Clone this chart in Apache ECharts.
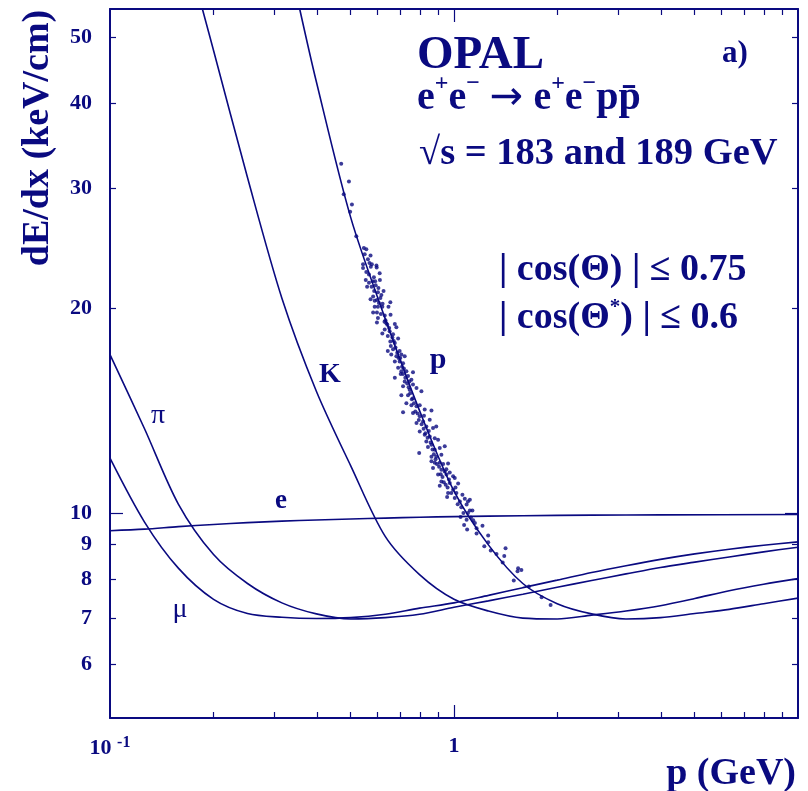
<!DOCTYPE html>
<html>
<head>
<meta charset="utf-8">
<script src="https://cdn.jsdelivr.net/npm/echarts@6/dist/echarts.min.js"></script>
<style>
html, body { margin: 0; padding: 0; background: #fff; }
#chart { width: 808px; height: 791px; }
</style>
</head>
<body>
<div id="chart"></div>
<script>
// axis ticks / labels
var xLabelValues = [0.1, 1];
var xMinorTicks = [0.2, 0.3, 0.4, 0.5, 0.6, 0.7, 0.8, 0.9, 2, 3, 4, 5, 6, 7, 8, 9];
var xMajorTicks = [1];
var yLabelValues = [6, 7, 8, 9, 10, 20, 30, 40, 50];
var yMinorTicks = [6, 7, 8, 9, 20, 30, 40, 50];
var yMajorTicks = [10];

// expected dE/dx curves [p (GeV), dE/dx (keV/cm)]
var eCurve = [[0.1, 9.42], [0.126, 9.47], [0.158, 9.55], [0.2, 9.62], [0.251, 9.68], [0.316, 9.73], [0.398, 9.77], [0.501, 9.80], [0.631, 9.83], [0.794, 9.86], [1.0, 9.88], [1.585, 9.91], [2.512, 9.93], [3.981, 9.94], [10, 9.95]];
var muCurve = [[0.1, 12.04], [0.126, 9.70], [0.158, 8.30], [0.2, 7.47], [0.251, 7.12], [0.316, 7.03], [0.398, 7.0], [0.501, 7.02], [0.631, 7.10], [0.794, 7.25], [1.0, 7.38], [1.259, 7.57], [1.585, 7.77], [1.995, 7.97], [2.512, 8.18], [3.162, 8.37], [3.981, 8.55], [5.012, 8.71], [6.31, 8.85], [7.943, 8.97], [10, 9.07]];
var piCurve = [[0.1, 17.09], [0.126, 13.30], [0.158, 10.31], [0.2, 8.69], [0.251, 7.88], [0.316, 7.38], [0.398, 7.11], [0.501, 6.99], [0.631, 7.02], [0.794, 7.10], [1.0, 7.27], [1.259, 7.43], [1.585, 7.60], [1.995, 7.78], [2.512, 7.96], [3.162, 8.14], [3.981, 8.32], [5.012, 8.47], [6.31, 8.62], [7.943, 8.77], [10, 8.91]];
var kCurve = [[0.1856, 55], [0.2, 47.8], [0.251, 31.1], [0.316, 20.68], [0.398, 15.1], [0.501, 11.73], [0.631, 9.24], [0.794, 8.12], [1.0, 7.47], [1.259, 7.18], [1.585, 7.01], [1.995, 6.99], [2.512, 7.08], [3.162, 7.18], [3.981, 7.31], [5.012, 7.49], [6.31, 7.69], [7.943, 7.86], [10, 8.01]];
var pCurve = [[0.356, 55], [0.398, 43.0], [0.501, 27.16], [0.631, 19.3], [0.794, 14.14], [1.0, 10.77], [1.259, 8.98], [1.585, 7.88], [1.995, 7.36], [2.512, 7.11], [3.162, 6.99], [3.981, 7.02], [5.012, 7.12], [6.31, 7.22], [7.943, 7.36], [10, 7.5]];

// measured proton candidates
var protons = [
  [0.470, 32.6], [0.495, 30.7], [0.478, 29.4], [0.505, 28.4], [0.499, 27.7], [0.520, 25.5], [0.547, 24.5], [0.556, 24.4], [0.550, 24.0], [0.572, 23.9],
  [0.544, 23.2], [0.544, 22.9], [0.556, 22.6], [0.573, 23.0], [0.577, 23.2], [0.595, 23.1], [0.596, 22.95], [0.566, 22.4], [0.608, 22.5], [0.554, 22.0],
  [0.566, 21.8], [0.609, 22.0], [0.559, 21.5], [0.576, 21.5], [0.601, 21.1], [0.624, 21.2], [0.582, 20.8], [0.572, 20.6], [0.588, 20.5], [0.597, 20.55],
  [0.611, 20.7], [0.605, 20.35], [0.653, 20.4], [0.588, 20.1], [0.601, 20.1], [0.619, 20.1], [0.645, 20.1], [0.582, 19.7], [0.597, 19.7], [0.613, 19.6],
  [0.629, 19.5], [0.654, 19.55], [0.601, 19.35], [0.597, 19.05], [0.636, 19.0], [0.673, 18.95], [0.680, 18.75], [0.629, 18.6], [0.650, 18.5], [0.619, 18.35],
  [0.642, 18.2], [0.665, 18.3], [0.688, 18.05], [0.653, 17.87], [0.673, 17.77], [0.642, 17.3], [0.665, 17.4], [0.695, 17.3], [0.657, 17.1], [0.703, 17.1],
  [0.680, 17.0], [0.719, 17.0], [0.673, 16.7], [0.695, 16.7], [0.711, 16.6], [0.688, 16.35], [0.703, 16.15], [0.727, 16.15], [0.673, 15.8], [0.760, 16.1],
  [0.711, 16.0], [0.735, 15.9], [0.752, 15.7], [0.719, 15.6], [0.760, 15.45], [0.711, 15.35], [0.743, 15.18], [0.778, 15.27], [0.804, 15.1], [0.703, 14.9],
  [0.735, 14.9], [0.760, 14.75], [0.727, 14.5], [0.752, 14.4], [0.778, 14.35], [0.795, 14.4], [0.822, 14.19], [0.860, 14.15], [0.711, 14.06], [0.760, 14.03],
  [0.795, 13.87], [0.778, 13.56], [0.813, 13.63], [0.850, 13.71], [0.831, 13.4], [0.869, 13.33], [0.888, 13.4], [0.795, 13.18], [0.822, 13.03], [0.850, 12.96],
  [0.879, 12.88], [0.899, 12.81], [0.831, 12.74], [0.860, 12.6], [0.792, 12.25], [0.879, 12.39], [0.909, 12.46], [0.940, 12.53], [0.860, 12.1], [0.888, 12.1],
  [0.919, 12.18], [0.879, 11.85], [0.909, 11.85], [0.961, 11.82], [0.869, 11.65], [0.919, 11.58], [0.940, 11.51], [0.972, 11.47], [0.899, 11.39], [0.994, 11.33],
  [0.860, 11.91], [0.951, 11.39], [1.005, 11.26], [0.919, 11.13], [0.972, 11.07], [1.028, 11.05], [0.909, 10.97], [0.994, 10.82], [0.961, 10.7], [1.016, 10.7],
  [0.955, 10.56], [1.005, 10.52], [1.058, 10.64], [1.04, 10.4], [1.098, 10.4], [1.112, 10.46], [1.088, 10.29], [1.112, 10.09], [1.131, 10.09], [1.045, 9.87],
  [1.098, 10.0], [1.137, 9.76], [1.088, 9.78], [1.150, 9.67], [1.210, 9.58], [1.092, 9.46], [1.163, 9.5], [1.257, 9.27], [1.163, 9.33], [1.257, 9.06],
  [1.225, 8.94], [1.279, 8.81], [1.329, 8.71], [1.412, 8.88], [1.400, 8.65], [1.385, 8.46], [1.536, 8.30], [1.530, 8.21], [1.570, 8.25], [1.492, 7.96],
  [1.651, 7.80], [1.798, 7.52], [1.909, 7.33],
  [0.562, 23.6], [0.568, 23.3], [0.585, 22.2], [0.590, 21.9], [0.586, 21.2], [0.592, 21.6], [0.603, 21.4], [0.615, 20.9], [0.580, 21.9], [0.620, 20.3],
  [0.632, 19.2], [0.640, 18.9], [0.628, 19.1], [0.648, 18.7], [0.662, 18.1], [0.655, 17.6], [0.668, 17.9], [0.676, 17.5], [0.684, 17.2], [0.690, 16.9],
  [0.698, 16.9], [0.706, 16.4], [0.715, 16.3], [0.722, 15.8], [0.731, 15.5], [0.738, 15.3], [0.746, 15.0], [0.754, 14.7], [0.765, 14.5], [0.772, 14.1],
  [0.784, 14.0], [0.790, 13.7], [0.742, 15.6], [0.700, 16.0], [0.805, 13.5], [0.816, 13.3], [0.826, 13.1], [0.838, 12.9], [0.845, 13.2], [0.855, 12.7],
  [0.866, 12.4], [0.874, 12.2], [0.884, 12.0], [0.892, 11.8], [0.840, 12.5], [0.818, 13.9], [0.905, 11.7], [0.915, 11.4], [0.926, 11.3], [0.934, 11.1],
  [0.946, 11.0], [0.958, 10.9], [0.967, 11.2], [0.982, 10.7], [0.930, 11.8], [0.950, 11.6], [1.010, 10.9], [1.025, 10.3], [1.050, 10.2], [1.065, 10.0],
  [1.075, 10.5], [1.120, 9.85], [1.070, 9.6]
];

var navy = '#0a0a80';
var serif = '"Liberation Serif", "Times New Roman", serif';

// one axis per side and tick size (short minor, long major ticks inside)
function xAxisDef(pos, ticks, len, labels) {
    return {
        type: 'log', logBase: 10, min: 0.1, max: 10, position: pos,
        axisLine: { show: len < 10, lineStyle: { color: navy, width: 2 } },
        axisTick: { show: true, inside: true, length: len, customValues: ticks, lineStyle: { color: navy, width: 1.2 } },
        axisLabel: labels ? {
            customValues: labels, margin: 17, color: navy,
            fontFamily: serif, fontWeight: 'bold', fontSize: 22,
            formatter: function (v) { return v < 0.5 ? '{b|10} {s|-1}' : '{b|1}'; },
            rich: {
                b: { fontFamily: serif, fontWeight: 'bold', fontSize: 22, color: navy },
                s: { fontFamily: serif, fontWeight: 'bold', fontSize: 16, color: navy, verticalAlign: 'top', padding: [0, 0, 10, 0] }
            }
        } : { show: false },
        splitLine: { show: false }
    };
}
function yAxisDef(pos, ticks, len, labels) {
    return {
        type: 'log', logBase: 10, min: 5, max: 55, position: pos,
        axisLine: { show: len < 10, lineStyle: { color: navy, width: 2 } },
        axisTick: { show: true, inside: true, length: len, customValues: ticks, lineStyle: { color: navy, width: 1.2 } },
        axisLabel: labels ? {
            customValues: labels, margin: 18, color: navy,
            fontFamily: serif, fontWeight: 'bold', fontSize: 22,
            formatter: function (v) { return String(Math.round(v)); }
        } : { show: false },
        splitLine: { show: false }
    };
}

function curve(name, data) {
    return {
        name: name, type: 'line', data: data, xAxisIndex: 0, yAxisIndex: 0,
        showSymbol: false, smooth: 0.3, clip: true,
        lineStyle: { color: navy, width: 1.6 }
    };
}

var chart = echarts.init(document.getElementById('chart'), null, { renderer: 'canvas' });

chart.setOption({
    animation: false,
    backgroundColor: '#fff',
    grid: { left: 110, right: 10, top: 9, bottom: 73, containLabel: false },
    xAxis: [
        xAxisDef('bottom', xMinorTicks, 6, xLabelValues),
        xAxisDef('bottom', xMajorTicks, 13, null),
        xAxisDef('top', xMinorTicks, 6, null),
        xAxisDef('top', xMajorTicks, 13, null)
    ],
    yAxis: [
        yAxisDef('left', yMinorTicks, 6, yLabelValues),
        yAxisDef('left', yMajorTicks, 13, null),
        yAxisDef('right', yMinorTicks, 6, null),
        yAxisDef('right', yMajorTicks, 13, null)
    ],
    series: [
        curve('e', eCurve),
        curve('mu', muCurve),
        curve('pi', piCurve),
        curve('K', kCurve),
        curve('p', pCurve),
        {
            name: 'data', type: 'scatter', data: protons, xAxisIndex: 0, yAxisIndex: 0,
            symbol: 'circle', symbolSize: 4,
            itemStyle: { color: navy }
        }
    ],
    graphic: [
        { type: 'text', x: 38, y: 138, rotation: Math.PI / 2,
          style: { text: 'dE/dx (keV/cm)', font: 'bold 38px ' + serif, fill: navy, align: 'center', verticalAlign: 'middle' } },
        { type: 'text', x: 796, y: 774,
          style: { text: 'p (GeV)', font: 'bold 38px ' + serif, fill: navy, align: 'right', verticalAlign: 'middle' } },
        { type: 'text', x: 417, y: 56,
          style: { text: 'OPAL', font: 'bold 47px ' + serif, fill: navy, align: 'left', verticalAlign: 'middle' } },
        { type: 'text', x: 722, y: 54,
          style: { text: 'a)', font: 'bold 31px ' + serif, fill: navy, align: 'left', verticalAlign: 'middle' } },
        { type: 'text', x: 417, y: 99,
          style: {
              text: '{b|e}{s|+}{b|e}{s|\u2212}{b| }{a|\u2192}{b| e}{s|+}{b|e}{s|\u2212}{b|pp\u0304}',
              align: 'left', verticalAlign: 'middle',
              rich: {
                  b: { font: 'bold 40px ' + serif, fill: navy, lineHeight: 54 },
                  a: { font: '40px "DejaVu Sans"', fill: navy, lineHeight: 54 },
                  s: { font: 'bold 24px ' + serif, fill: navy, verticalAlign: 'top', lineHeight: 24 }
              }
          } },
        { type: 'text', x: 419, y: 154,
          style: { text: '\u221As = 183 and 189 GeV', font: 'bold 38.5px ' + serif, fill: navy, align: 'left', verticalAlign: 'middle' } },
        { type: 'text', x: 499, y: 270,
          style: { text: '| cos(\u0398) | \u2264 0.75', font: 'bold 38px ' + serif, fill: navy, align: 'left', verticalAlign: 'middle' } },
        { type: 'text', x: 499, y: 318,
          style: {
              text: '{b|| cos(\u0398}{s|*}{b|) | \u2264 0.6}',
              align: 'left', verticalAlign: 'middle',
              rich: {
                  b: { font: 'bold 38px ' + serif, fill: navy, lineHeight: 42 },
                  s: { font: 'bold 21px ' + serif, fill: navy, verticalAlign: 'top', lineHeight: 21 }
              }
          } },
        { type: 'text', x: 158, y: 416,
          style: { text: '\u03C0', font: '28px ' + serif, fill: navy, align: 'center', verticalAlign: 'middle' } },
        { type: 'text', x: 281, y: 501,
          style: { text: 'e', font: 'bold 27px ' + serif, fill: navy, align: 'center', verticalAlign: 'middle' } },
        { type: 'text', x: 180, y: 610,
          style: { text: '\u03BC', font: '28px ' + serif, fill: navy, align: 'center', verticalAlign: 'middle' } },
        { type: 'text', x: 330, y: 375,
          style: { text: 'K', font: 'bold 28px ' + serif, fill: navy, align: 'center', verticalAlign: 'middle' } },
        { type: 'text', x: 438, y: 360,
          style: { text: 'p', font: 'bold 30px ' + serif, fill: navy, align: 'center', verticalAlign: 'middle' } }
    ]
});
</script>
</body>
</html>
